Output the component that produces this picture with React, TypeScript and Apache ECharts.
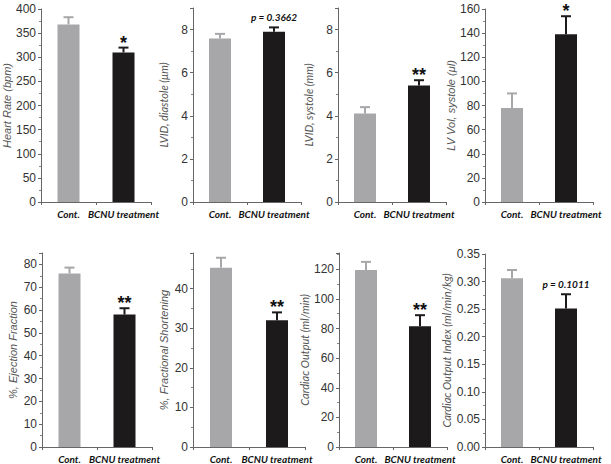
import React, { useEffect, useRef } from "react";
import * as echarts from "echarts";

const categories = ["Cont.", "BCNU treatment"];
const axisTitles = [
  "Heart Rate (bpm)",
  "LVID, diastole (μm)",
  "LVID, systole (mm)",
  "LV Vol, systole (μl)",
  "%, Ejection Fraction",
  "%, Fractional Shortening",
  "Cardiac Output (ml/min)",
  "Cardiac Output Index (ml/min/kg)",
];
const contMeans = [368, 7.58, 4.1, 78, 76, 45.3, 119.5, 0.306];
const contErrTop = [383, 7.8, 4.4, 90, 78.6, 47.8, 125, 0.321];
const bcnuMeans = [310, 7.9, 5.4, 139, 58, 32, 81.5, 0.251];
const bcnuErrTop = [320, 8.1, 5.65, 154, 60.8, 34, 89, 0.277];
const annotations = ["*", "p = 0.3662", "**", "*", "**", "**", "**", "p = 0.1011"];
const yMax = [400, 9, 9, 160, 85, 49, 131, 0.35];
const yInterval = [50, 2, 2, 20, 10, 10, 20, 0.05];
const yDecimals = [0, 0, 0, 0, 0, 0, 0, 2];

const GRAY = "#a7a7a9";
const BLACK = "#1c1a1b";
const gridBoxes = [
  { left: 41, top: 9, width: 110, height: 193 },
  { left: 193, top: 8, width: 108, height: 194 },
  { left: 338, top: 8, width: 108, height: 194 },
  { left: 485, top: 9, width: 108, height: 193 },
  { left: 42, top: 253, width: 110, height: 195 },
  { left: 193, top: 253, width: 112, height: 195 },
  { left: 339, top: 253, width: 108, height: 195 },
  { left: 485, top: 254, width: 108, height: 194 },
];
const titleFonts = [
  "Liberation Sans", "Lato", "Lato", "Liberation Sans",
  "Liberation Sans", "Liberation Sans", "Lato", "Lato",
];

export default function App() {
  const ref = useRef<HTMLDivElement>(null);
  useEffect(() => {
    if (!ref.current) return;
    const chart = echarts.init(ref.current, undefined, { renderer: "svg" });
    const grid: any[] = [];
    const xAxis: any[] = [];
    const yAxis: any[] = [];
    const series: any[] = [];
    for (let i = 0; i < 8; i++) {
      grid.push({ ...gridBoxes[i], containLabel: false });
      xAxis.push({
        type: "category",
        gridIndex: i,
        data: categories,
        axisLine: { lineStyle: { color: "#666", width: 1 } },
        axisTick: { show: true, length: 3, lineStyle: { color: "#666" } },
        axisLabel: {
          interval: 0,
          margin: 7,
          color: "#111",
          fontFamily: "Lato",
          fontStyle: "italic",
          fontWeight: "bold",
          fontSize: 10,
        },
      });
      const showMax = Math.abs(yMax[i] / yInterval[i] - Math.round(yMax[i] / yInterval[i])) < 1e-6;
      yAxis.push({
        type: "value",
        gridIndex: i,
        min: 0,
        max: yMax[i],
        interval: yInterval[i],
        name: axisTitles[i],
        nameLocation: "middle",
        nameGap: i === 0 ? 29 : i === 7 ? 33 : 24,
        nameTextStyle: {
          color: "#555",
          fontStyle: "italic",
          fontSize: 11,
          fontFamily: titleFonts[i],
        },
        axisLine: { show: true, lineStyle: { color: "#666", width: 1 } },
        axisTick: { show: true, length: 3, lineStyle: { color: "#666" } },
        minorTick: { show: true, splitNumber: 2, length: 2, lineStyle: { color: "#888" } },
        splitLine: { show: false },
        axisLabel: {
          color: "#333",
          fontFamily: "Liberation Sans",
          fontSize: 12,
          margin: 5,
          showMaxLabel: showMax,
          formatter: (v: number) => v.toFixed(yDecimals[i]),
        },
      });
      series.push({
        type: "bar",
        xAxisIndex: i,
        yAxisIndex: i,
        barWidth: 22,
        data: [
          { value: contMeans[i], itemStyle: { color: GRAY } },
          { value: bcnuMeans[i], itemStyle: { color: BLACK } },
        ],
      });
      series.push({
        type: "custom",
        xAxisIndex: i,
        yAxisIndex: i,
        z: 3,
        encode: { x: 0, y: 2 },
        data: [
          [0, contMeans[i], contErrTop[i]],
          [1, bcnuMeans[i], bcnuErrTop[i]],
        ],
        renderItem: (params: any, api: any) => {
          const x = api.value(0);
          const p0 = api.coord([x, api.value(1)]);
          const p1 = api.coord([x, api.value(2)]);
          const color = params.dataIndex === 0 ? GRAY : BLACK;
          return {
            type: "group",
            children: [
              { type: "line", shape: { x1: p0[0], y1: p0[1], x2: p1[0], y2: p1[1] }, style: { stroke: color, lineWidth: 2 } },
              { type: "line", shape: { x1: p1[0] - 5, y1: p1[1], x2: p1[0] + 5, y2: p1[1] }, style: { stroke: color, lineWidth: 2 } },
            ],
          };
        },
      });
      const isStar = annotations[i].startsWith("*");
      series.push({
        type: "custom",
        xAxisIndex: i,
        yAxisIndex: i,
        z: 4,
        encode: { x: 0, y: 1 },
        data: [[1, bcnuErrTop[i]]],
        renderItem: (params: any, api: any) => {
          const p = api.coord([api.value(0), api.value(1)]);
          return {
            type: "text",
            x: p[0],
            y: isStar ? p[1] - 5 : p[1] - 10,
            style: {
              text: annotations[i],
              fill: "#111",
              align: "center",
              verticalAlign: "middle",
              font: isStar
                ? "bold 18px 'Liberation Sans'"
                : "italic bold 10px Lato",
            },
          };
        },
      });
    }
    chart.setOption({
      animation: false,
      backgroundColor: "#fff",
      grid,
      xAxis,
      yAxis,
      series,
    });
    return () => chart.dispose();
  }, []);
  return <div ref={ref} style={{ width: 611, height: 464, position: "absolute", left: 0, top: 0 }} />;
}
